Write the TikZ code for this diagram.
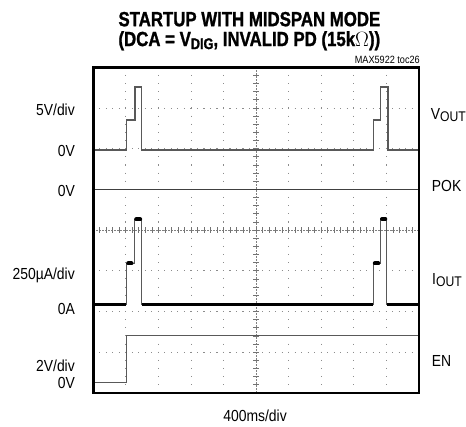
\documentclass[tikz,border=0pt]{standalone}
\usepackage{fontspec}
\setmainfont{Liberation Sans}[FakeStretch=0.87]
\newfontfamily\titlefont{Liberation Sans}[FakeStretch=0.82, BoldFeatures={FakeBold=1.2}]
\newcommand\fsz[1]{\fontsize{#1}{#1}\selectfont}
\begin{document}
\begin{tikzpicture}[x=1pt,y=-1pt,
  lbl/.style={inner sep=0pt,font=\fsz{16}},
  gridv/.style={draw=black!45,line width=0.9pt,dash pattern=on 1.1pt off 7.04pt,dash phase=0.55pt},
  gridh/.style={draw=black!45,line width=0.9pt,dash pattern=on 1.1pt off 5.41pt,dash phase=0.55pt},
  axisln/.style={draw=black!50,line width=0.8pt,dash pattern=on 1.5pt off 1.5pt},
  tickmk/.style={draw=black!55,line width=0.8pt},
  frame/.style={draw=black,line width=2.6pt},
  trace/.style={draw=black!65,line width=1.5pt},
  noisy/.style={draw=black,line width=3pt},
  blob/.style={draw=black,line width=4pt,line cap=round}]
\useasboundingbox (0,0) rectangle (466,427);
% grid
\foreach \i in {1,...,9}{
  \draw[gridv] ({93.3+\i*32.57},67.3) -- ({93.3+\i*32.57},393);
}
\foreach \j in {1,...,7}{
  \draw[gridh] (93.3,{67.3+\j*40.71}) -- (419,{67.3+\j*40.71});
}
% center axes with minor ticks
\draw[axisln] (256.15,67.3) -- (256.15,393);
\draw[axisln] (93.3,230.15) -- (419,230.15);
\foreach \j in {1,...,39}{
  \draw[tickmk] (253.4,{67.3+\j*8.142}) -- (258.9,{67.3+\j*8.142});
}
\foreach \j in {1,...,49}{
  \draw[tickmk] ({93.3+\j*6.514},227.4) -- ({93.3+\j*6.514},232.9);
}
% VOUT trace
\draw[trace] (93.3,150) -- (126.5,150) -- (126.5,120) -- (134.8,120) -- (134.8,87) -- (141.5,87) -- (141.5,150)
  -- (373.3,150) -- (373.3,120) -- (380.7,120) -- (380.7,87) -- (388,87) -- (388,150) -- (419,150);
% POK trace
\draw[trace,draw=black!75] (93.3,189.6) -- (419,189.6);
% IOUT trace
\draw[noisy] (93.3,305) -- (125.8,305);
\draw[noisy] (141.5,305) -- (372.6,305);
\draw[noisy] (387.3,305) -- (419,305);
\draw[trace] (126.7,305) -- (126.7,263.5) -- (134.5,263.5) -- (134.5,219.5) -- (141.5,219.5) -- (141.5,305);
\draw[trace] (373.3,305) -- (373.3,263.5) -- (380.3,263.5) -- (380.3,219) -- (386.7,219) -- (386.7,305);
\draw[blob] (128.2,263.5) -- (131.5,263.5);
\draw[blob] (136.2,219.5) -- (140.2,219.5);
\draw[blob] (374.8,263.5) -- (378.3,263.5);
\draw[blob] (382,219) -- (385.3,219);
% EN trace
\draw[trace] (93.3,382.5) -- (126.7,382.5) -- (126.7,335.7) -- (419,335.7);
% frame
\draw[frame] (93.3,67.3) rectangle (419,393);
% title (one two-line text)
\node[inner sep=0pt,anchor=base west] (title) at (118.3,26.2) {\titlefont\bfseries\fontsize{20.5}{16.8}\selectfont
  \begin{tabular}[t]{@{}l@{}}STARTUP WITH MIDSPAN MODE\\(DCA = V\raisebox{-3pt}{\fsz{15.5}DIG}, INVALID PD (15k$\Omega$))\end{tabular}};
\node[inner sep=0pt,anchor=base east,font=\fsz{10.5}] (tag) at (420,64) {MAX5922 toc26};
% left labels
\node[lbl,anchor=base east] (l1) at (75,116) {5V/div};
\node[lbl,anchor=base east] (l2) at (75,157) {0V};
\node[lbl,anchor=base east] (l3) at (75,197) {0V};
\node[lbl,anchor=base east] (l4) at (75,280) {250\textmu A/div};
\node[lbl,anchor=base east] (l5) at (75,315) {0A};
\node[lbl,anchor=base east] (l6) at (75,372) {2V/div};
\node[lbl,anchor=base east] (l7) at (75,388.5) {0V};
% right labels
\node[lbl,anchor=base west] (r1) at (430.7,120) {V\raisebox{-2pt}{\fsz{14}OUT}};
\node[lbl,anchor=base west] (r2) at (431.7,192) {POK};
\node[lbl,anchor=base west] (r3) at (432,285) {I\raisebox{-2pt}{\fsz{14}OUT}};
\node[lbl,anchor=base west] (r4) at (431.7,366.7) {EN};
% bottom label
\node[lbl,anchor=base] (b1) at (255,421.7) {400ms/div};
\end{tikzpicture}
\end{document}
